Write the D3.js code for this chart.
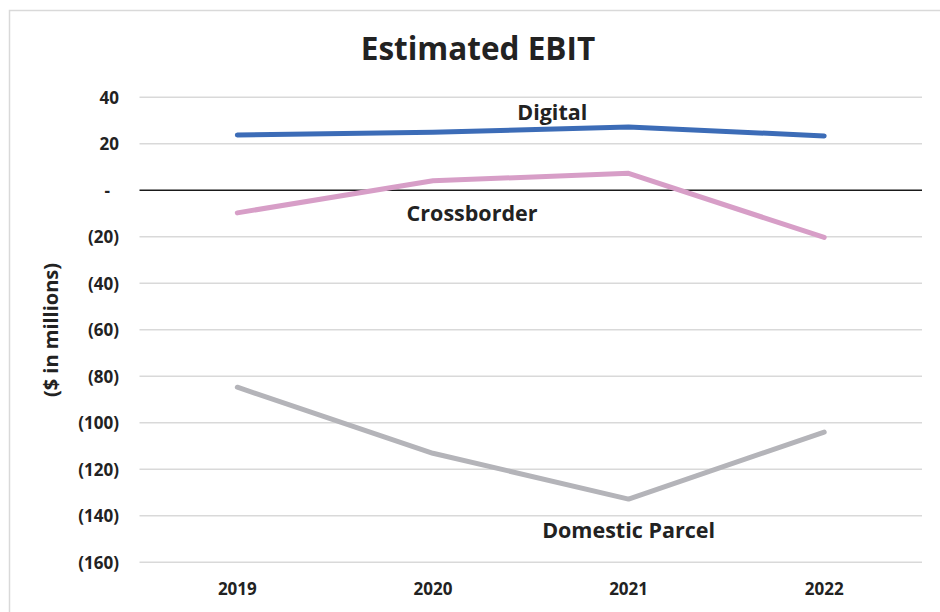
<!DOCTYPE html>
<html>
<head>
<meta charset="utf-8">
<script src="https://cdnjs.cloudflare.com/ajax/libs/d3/7.8.5/d3.min.js"></script>
<style>
  body { margin: 0; background: #fff; }
  svg text { font-family: "Open Sans", "Noto Sans", sans-serif; }
</style>
</head>
<body>
<div id="chart"></div>
<script>
// data
var years = ["2019", "2020", "2021", "2022"];
var digital = [23.8, 25.0, 27.2, 23.4];
var crossborder = [-9.7, 4.1, 7.3, -20.3];
var domesticParcel = [-84.7, -113.1, -132.8, -104.0];
var yTicks = [40, 20, 0, -20, -40, -60, -80, -100, -120, -140, -160];

var w = 940, h = 612;
var ink = "#222";

var svg = d3.select("#chart").append("svg")
  .attr("width", w)
  .attr("height", h);

// light frame round the chart area
svg.append("rect")
  .attr("x", 9.5).attr("y", 10.5)
  .attr("width", 960).attr("height", 640)
  .attr("fill", "#fff")
  .attr("stroke", "#d9d9d9")
  .attr("stroke-width", 1.5);

var xScale = d3.scaleBand()
  .domain(years)
  .range([139.5, 922]);

var yScale = d3.scaleLinear()
  .domain([-160, 40])
  .range([562.3, 97.3]);

var xc = function(i) { return xScale(years[i]) + xScale.bandwidth() / 2; };

// gridlines first, zero line drawn on top
svg.append("g").selectAll("line")
  .data(yTicks.filter(function(d) { return d !== 0; }))
  .enter().append("line")
  .attr("x1", 139.5).attr("x2", 922)
  .attr("y1", function(d) { return yScale(d); })
  .attr("y2", function(d) { return yScale(d); })
  .attr("stroke", "#d9d9d9")
  .attr("stroke-width", 1.5);

svg.append("line")
  .attr("x1", 139.5).attr("x2", 922)
  .attr("y1", yScale(0)).attr("y2", yScale(0))
  .attr("stroke", "#1a1a1a")
  .attr("stroke-width", 1.5);

// y labels
var yAxis = d3.axisLeft(yScale)
  .tickValues(yTicks)
  .tickSize(0)
  .tickPadding(0)
  .tickFormat(function(d) {
    if (d === 0) return "-";
    return d < 0 ? "(" + Math.abs(d) + ")" : String(d);
  });

var gy = svg.append("g")
  .attr("transform", "translate(119,0)")
  .call(yAxis);
gy.attr("font-family", null).attr("font-size", null);
gy.select(".domain").remove();
gy.selectAll("text")
  .attr("font-size", 17)
  .attr("font-weight", 700)
  .attr("fill", ink)
  .attr("dy", "0.35em")
  .attr("x", function(d) { return d === 0 ? -9 : 0; });

// x labels
var xAxis = d3.axisBottom(xScale).tickSize(0).tickPadding(0);
var gx = svg.append("g")
  .attr("transform", "translate(0,589)")
  .call(xAxis);
gx.attr("font-family", null).attr("font-size", null);
gx.select(".domain").remove();
gx.selectAll("text")
  .attr("font-size", 17)
  .attr("font-weight", 700)
  .attr("fill", ink)
  .attr("dy", "0.35em");

// lines
var line = d3.line()
  .x(function(d, i) { return xc(i); })
  .y(function(d) { return yScale(d); });

var series = [
  { name: "Domestic Parcel", values: domesticParcel, color: "#b4b4b9" },
  { name: "Crossborder", values: crossborder, color: "#d79ec7" },
  { name: "Digital", values: digital, color: "#3c6cb7" }
];

svg.selectAll("path.series")
  .data(series)
  .enter().append("path")
  .attr("class", "series")
  .attr("d", function(d) { return line(d.values); })
  .attr("fill", "none")
  .attr("stroke", function(d) { return d.color; })
  .attr("stroke-width", 5)
  .attr("stroke-linecap", "round")
  .attr("stroke-linejoin", "round");

// series labels placed next to their lines
var labels = [
  { text: "Digital", x: xc(1) + 0.61 * xScale.step(), y: yScale(33.3) },
  { text: "Crossborder", x: xc(1) + 0.2 * xScale.step(), y: yScale(-9.8) },
  { text: "Domestic Parcel", x: xc(2), y: yScale(-146.5) }
];
svg.selectAll("text.lbl")
  .data(labels)
  .enter().append("text")
  .attr("class", "lbl")
  .attr("x", function(d) { return d.x; })
  .attr("y", function(d) { return d.y; })
  .attr("dy", "0.35em")
  .attr("text-anchor", "middle")
  .attr("font-size", 21.5)
  .attr("font-weight", 700)
  .attr("fill", ink)
  .text(function(d) { return d.text; });

// title
svg.append("text")
  .attr("x", 478).attr("y", 49)
  .attr("dy", "0.35em")
  .attr("text-anchor", "middle")
  .attr("font-size", 31.5)
  .attr("font-weight", 700)
  .attr("fill", ink)
  .text("Estimated EBIT");

// y title
svg.append("text")
  .attr("transform", "translate(51,330) rotate(-90)")
  .attr("dy", "0.35em")
  .attr("text-anchor", "middle")
  .attr("font-size", 20)
  .attr("font-weight", 700)
  .attr("fill", ink)
  .text("($ in millions)");
</script>
</body>
</html>
